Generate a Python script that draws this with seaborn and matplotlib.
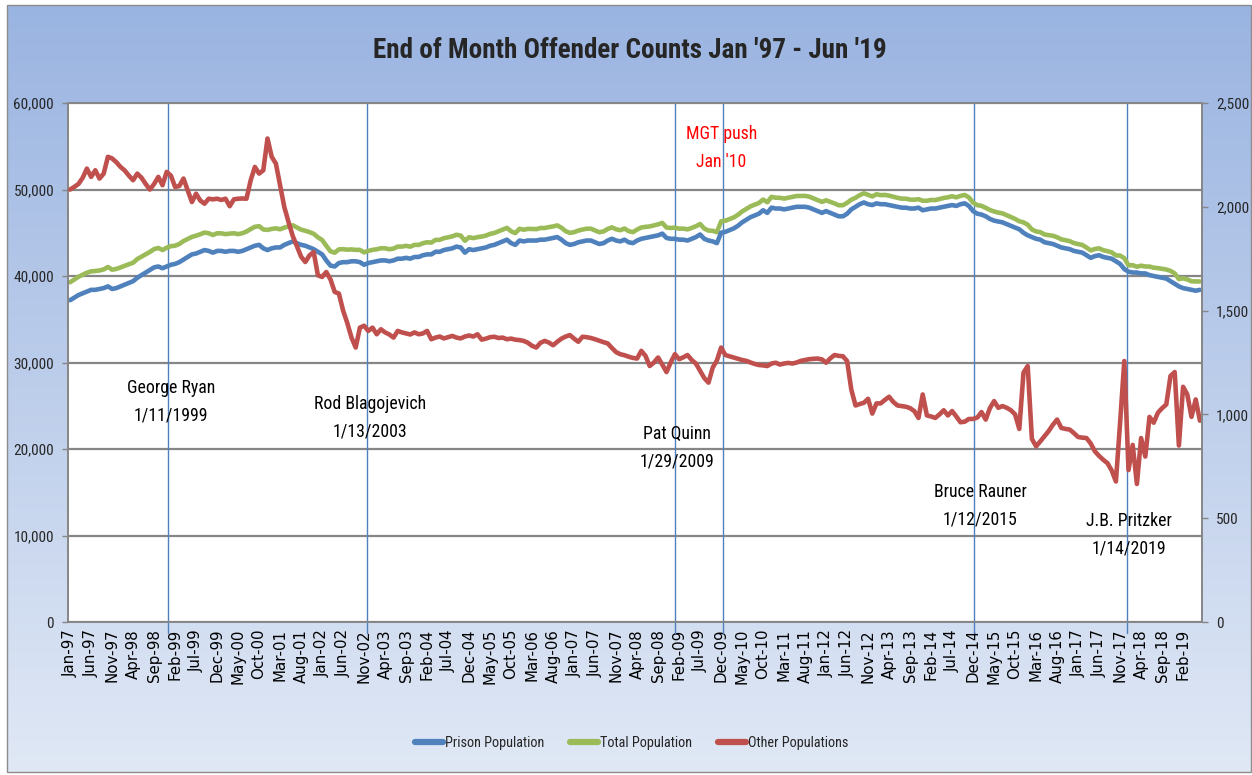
import numpy as np
import pandas as pd
import matplotlib
matplotlib.use("Agg")
import matplotlib.pyplot as plt
import seaborn as sns
from matplotlib import font_manager as fm
from matplotlib.patches import Rectangle
from matplotlib.lines import Line2D
from matplotlib.ticker import FuncFormatter, MultipleLocator

sns.set_style("white")
plt.rcParams['font.family'] = ['DejaVu Sans']


def _w(v):
    if isinstance(v, str):
        return fm.weight_dict.get(v, 400)
    return int(v)


def find_narrow(bold):
    prefs = ['Liberation Sans Narrow', 'Roboto Condensed', 'Open Sans Condensed',
             'Noto Sans', 'DejaVu Sans', 'Open Sans', 'Roboto', 'Lato', 'Inter']
    for fam in prefs:
        for f in fm.fontManager.ttflist:
            if f.name != fam or f.style != 'normal':
                continue
            narrow = ('Narrow' in fam or 'Condensed' in fam or
                      str(f.stretch) in ('condensed', 'semi-condensed', 'extra-condensed',
                                         'ultra-condensed'))
            if not narrow:
                continue
            w = _w(f.weight)
            if bold and w >= 600:
                return f.fname
            if not bold and 350 <= w <= 500:
                return f.fname
    return None


_reg = find_narrow(False)
_bold = find_narrow(True)
FP = fm.FontProperties(fname=_reg) if _reg else fm.FontProperties(family='DejaVu Sans')
FPB = fm.FontProperties(fname=_bold) if _bold else fm.FontProperties(family='DejaVu Sans', weight='bold')
HAVE_NARROW = _reg is not None

# ---------------- data (monthly, Jan 1997 - Jun 2019) ----------------
prison = [
    37200, 37500, 37800, 38000, 38200, 38400, 38400, 38500, 38600, 38800, 38500, 38600,
    38800, 39000, 39200, 39400, 39800, 40100, 40400, 40700, 41000, 41100, 40900, 41100,
    41300, 41400, 41600, 41900, 42200, 42500, 42600, 42800, 43000, 42900, 42700, 42900,
    42900, 42800, 42900, 42900, 42800, 42900, 43100, 43300, 43500, 43600, 43200, 43000,
    43200, 43300, 43300, 43600, 43800, 44000, 43800, 43600, 43500, 43300, 43100, 42800,
    42500, 41800, 41200, 41100, 41500, 41600, 41600, 41700, 41700, 41600, 41300, 41500,
    41600, 41700, 41800, 41800, 41700, 41800, 42000, 42000, 42100, 42000, 42200, 42200,
    42400, 42500, 42500, 42800, 42800, 43000, 43100, 43200, 43400, 43300, 42700, 43100,
    43000, 43100, 43200, 43300, 43500, 43600, 43800, 44000, 44200, 43800, 43600, 44100,
    44000, 44100, 44100, 44100, 44200, 44200, 44300, 44400, 44500, 44200, 43800, 43600,
    43700, 43900, 44000, 44100, 44100, 43900, 43700, 43800, 44100, 44300, 44100, 44000,
    44200, 43900, 43800, 44100, 44300, 44400, 44500, 44600, 44700, 44900, 44400, 44300,
    44300, 44200, 44200, 44100, 44300, 44500, 44800, 44300, 44100, 44000, 43800, 45000,
    45100, 45300, 45500, 45800, 46200, 46500, 46800, 47000, 47200, 47600, 47300, 47900,
    47800, 47800, 47700, 47800, 47900, 48000, 48000, 48000, 47900, 47700, 47500, 47300,
    47500, 47300, 47100, 46900, 46900, 47200, 47700, 48000, 48300, 48500, 48300, 48200,
    48400, 48300, 48300, 48200, 48100, 48000, 47900, 47900, 47800, 47800, 47900, 47600,
    47700, 47800, 47800, 47900, 48000, 48100, 48200, 48100, 48300, 48400, 48100, 47500,
    47200, 47100, 46900, 46600, 46400, 46300, 46200, 46000, 45800, 45600, 45400, 45000,
    44700, 44500, 44300, 44200, 43900, 43800, 43700, 43500, 43300, 43200, 43100, 42900,
    42800, 42700, 42400, 42100, 42300, 42400, 42200, 42100, 42000, 41700, 41400, 40800,
    40500, 40400, 40400, 40300, 40300, 40100, 40000, 39900, 39800, 39700, 39400, 39100,
    38800, 38600, 38500, 38400, 38300, 38400,
]

total = [
    39280, 39600, 39910, 40140, 40380, 40540, 40580, 40640, 40760, 41040, 40730, 40820,
    40990, 41180, 41350, 41530, 41960, 42240, 42510, 42780, 43110, 43240, 43000, 43270,
    43450, 43500, 43700, 44040, 44280, 44520, 44660, 44830, 45020, 44940, 44740, 44940,
    44930, 44840, 44900, 44940, 44840, 44940, 45140, 45430, 45690, 45760, 45380, 45330,
    45440, 45510, 45400, 45600, 45730, 45860, 45610, 45360, 45230, 45070, 44880, 44470,
    44160, 43490, 42850, 42690, 43080, 43100, 43040, 43070, 43020, 43020, 42730, 42900,
    43020, 43090, 43210, 43200, 43090, 43170, 43400, 43400, 43490, 43390, 43600, 43590,
    43790, 43900, 43860, 44170, 44180, 44370, 44470, 44580, 44770, 44670, 44080, 44480,
    44380, 44490, 44560, 44670, 44870, 44970, 45170, 45370, 45560, 45170, 44960, 45460,
    45350, 45450, 45430, 45420, 45550, 45550, 45650, 45730, 45850, 45570, 45180, 44980,
    45070, 45250, 45370, 45470, 45470, 45260, 45060, 45150, 45440, 45620, 45400, 45290,
    45490, 45180, 45070, 45370, 45610, 45680, 45730, 45850, 45970, 46140, 45600, 45550,
    45590, 45470, 45480, 45390, 45560, 45750, 46010, 45480, 45250, 45230, 45060, 46320,
    46390, 46580, 46770, 47070, 47460, 47760, 48050, 48240, 48440, 48840, 48530, 49150,
    49050, 49040, 48950, 49050, 49150, 49250, 49260, 49260, 49170, 48970, 48770, 48570,
    48750, 48570, 48390, 48180, 48180, 48460, 48820, 49040, 49350, 49560, 49380, 49200,
    49450, 49350, 49370, 49290, 49160, 49040, 48940, 48940, 48830, 48820, 48880, 48700,
    48700, 48790, 48780, 48900, 49020, 49100, 49220, 49090, 49260, 49370, 49080, 48480,
    48190, 48110, 47880, 47630, 47460, 47330, 47240, 47030, 46820, 46600, 46330, 46200,
    45930, 45380, 45150, 45070, 44800, 44720, 44650, 44480, 44240, 44130, 44030, 43810,
    43690, 43590, 43290, 42960, 43120, 43200, 42980, 42870, 42730, 42380, 42360, 42060,
    41230, 41250, 41070, 41190, 41100, 41090, 40960, 40910, 40830, 40750, 40590, 40300,
    39650, 39730, 39600, 39390, 39370, 39370,
]

other = [
    2083, 2096, 2110, 2140, 2184, 2144, 2176, 2136, 2160, 2241, 2233, 2215,
    2192, 2175, 2150, 2128, 2160, 2140, 2110, 2083, 2110, 2144, 2104, 2168,
    2150, 2096, 2100, 2136, 2080, 2023, 2063, 2030, 2015, 2039, 2036, 2039,
    2033, 2039, 2003, 2036, 2039, 2040, 2039, 2128, 2192, 2160, 2176, 2329,
    2241, 2208, 2104, 1999, 1927, 1860, 1810, 1760, 1734, 1766, 1782, 1670,
    1662, 1686, 1650, 1590, 1582, 1500, 1440, 1370, 1322, 1418, 1427, 1402,
    1418, 1386, 1410, 1395, 1385, 1370, 1402, 1395, 1390, 1385, 1395, 1386,
    1390, 1402, 1362, 1370, 1375, 1366, 1372, 1378, 1370, 1366, 1375, 1380,
    1375, 1386, 1360, 1365, 1372, 1374, 1368, 1370, 1362, 1365, 1360, 1358,
    1354, 1345, 1330, 1322, 1345, 1354, 1346, 1333, 1350, 1365, 1375, 1382,
    1365, 1350, 1374, 1372, 1368, 1362, 1355, 1348, 1342, 1320, 1300, 1290,
    1285, 1278, 1272, 1269, 1306, 1282, 1233, 1250, 1274, 1240, 1204, 1250,
    1290, 1266, 1275, 1286, 1262, 1245, 1210, 1175, 1153, 1225, 1260, 1322,
    1286, 1280, 1274, 1268, 1262, 1258, 1250, 1243, 1238, 1236, 1233, 1245,
    1249, 1240, 1245, 1248, 1245, 1250, 1258, 1262, 1266, 1268, 1269, 1265,
    1249, 1270, 1286, 1282, 1280, 1257, 1120, 1043, 1050, 1056, 1075, 1004,
    1053, 1053, 1070, 1085, 1060, 1043, 1040, 1037, 1030, 1016, 983, 1096,
    995, 990, 983, 1000, 1020, 995, 1016, 990, 962, 965, 978, 978,
    985, 1011, 975, 1030, 1064, 1032, 1040, 1032, 1020, 1000, 930, 1201,
    1233, 882, 846, 870, 895, 920, 950, 975, 935, 930, 927, 910,
    891, 888, 886, 860, 822, 800, 781, 765, 730, 677, 960, 1257,
    732, 853, 665, 886, 797, 988, 960, 1008, 1030, 1048, 1185, 1204,
    850, 1133, 1096, 988, 1072, 970,
]

tick_labels = [
    "Jan-97", "Jun-97", "Nov-97", "Apr-98", "Sep-98", "Feb-99", "Jul-99", "Dec-99",
    "May-00", "Oct-00", "Mar-01", "Aug-01", "Jan-02", "Jun-02", "Nov-02", "Apr-03",
    "Sep-03", "Feb-04", "Jul-04", "Dec-04", "May-05", "Oct-05", "Mar-06", "Aug-06",
    "Jan-07", "Jun-07", "Nov-07", "Apr-08", "Sep-08", "Feb-09", "Jul-09", "Dec-09",
    "May-10", "Oct-10", "Mar-11", "Aug-11", "Jan-12", "Jun-12", "Nov-12", "Apr-13",
    "Sep-13", "Feb-14", "Jul-14", "Dec-14", "May-15", "Oct-15", "Mar-16", "Aug-16",
    "Jan-17", "Jun-17", "Nov-17", "Apr-18", "Sep-18", "Feb-19",
]

# governors / events: (label, month index of the marker line, text x, text y on left axis, colour)
events = [
    ("George Ryan\n1/11/1999", 23.2, 24.0, 25500, "black"),
    ("Rod Blagojevich\n1/13/2003", 70.8, 71.4, 23600, "black"),
    ("Pat Quinn\n1/29/2009", 144.1, 144.6, 20100, "black"),
    ("MGT push\nJan '10", 155.4, 155.1, 54800, "#FF0000"),
    ("Bruce Rauner\n1/12/2015", 215.2, 216.7, 13400, "black"),
    ("J.B. Pritzker\n1/14/2019", 251.7, 252.2, 10100, "black"),
]

BLUE = "#4F81BD"
GREEN = "#9BBB59"
RED = "#C0504D"
GRID = "#868686"

# text sizes depend on whether a narrow face is available
if HAVE_NARROW:
    S_TITLE, S_TICK, S_ANN, S_LEG = 19.5, 11, 12.8, 10.3
else:
    S_TITLE, S_TICK, S_ANN, S_LEG = 16, 9.5, 11, 9.5

df = pd.DataFrame({
    "month": np.arange(len(prison)),
    "Prison Population": prison,
    "Total Population": total,
    "Other Populations": other,
})

W, H = 1252, 775
fig = plt.figure(figsize=(W / 100, H / 100), dpi=100)
fig.patch.set_facecolor("white")

# gradient background panel
bg = fig.add_axes([0, 0, 1, 1], zorder=-10)
bg.set_xlim(0, W)
bg.set_ylim(H, 0)
bg.axis("off")
g = np.linspace(0, 1, 256)[:, None, None]
c_top = np.array([154, 180, 225]) / 255
c_bot = np.array([224, 232, 245]) / 255
img = c_top + (c_bot - c_top) * g
bg.imshow(img, extent=[7, W, 772, 5], aspect="auto", interpolation="bilinear")
bg.add_patch(Rectangle((7, 5), W - 8, 767, fill=False, edgecolor="#8c8c8c", lw=1))

# main axes (plot area in pixels: x 68..1202, y 103..622)
L, R, T, B = 68, 1202, 103, 622
ax = fig.add_axes([L / W, 1 - B / H, (R - L) / W, (B - T) / H])
ax.set_facecolor("white")

sns.lineplot(data=df, x="month", y="Total Population", ax=ax, color=GREEN, lw=3.3, legend=False)
sns.lineplot(data=df, x="month", y="Prison Population", ax=ax, color=BLUE, lw=3.3, legend=False)

ax.set_xlim(-0.5, len(prison) - 0.5)
ax.set_ylim(0, 60000)
ax.yaxis.set_major_locator(MultipleLocator(10000))
ax.yaxis.set_major_formatter(FuncFormatter(lambda v, p: f"{int(v):,}"))
ax.grid(axis="y", color=GRID, lw=1.6, zorder=0)
ax.set_axisbelow(True)
ax.set_xlabel("")
ax.set_ylabel("")
ax.set_xticks(np.arange(0, len(prison), 5))
ax.set_xticklabels(tick_labels, rotation=90, fontsize=10.8, family=["DejaVu Sans"])
ax.tick_params(axis="x", length=0, pad=5, colors="black")
ax.tick_params(axis="y", length=4, width=1, color=GRID, pad=6)
for t in ax.get_yticklabels():
    t.set_fontproperties(FP)
    t.set_fontsize(S_TICK)
for s in ["left", "bottom", "top"]:
    ax.spines[s].set_color(GRID)
    ax.spines[s].set_linewidth(1.4)
ax.spines["right"].set_visible(False)

# event marker lines and labels
for label, xpos, tx, ty, col in events:
    ax.axvline(xpos, ymin=-0.022, ymax=1, color=BLUE, lw=1.0, zorder=1, clip_on=False)
    ax.text(tx, ty, label, ha="center", va="center", fontproperties=FP, fontsize=S_ANN,
            color=col, linespacing=1.68, zorder=5)

ax2 = ax.twinx()
sns.lineplot(data=df, x="month", y="Other Populations", ax=ax2, color=RED, lw=3.3, legend=False)
ax2.set_ylim(0, 2500)
ax2.set_xlim(-0.5, len(prison) - 0.5)
ax2.yaxis.set_major_locator(MultipleLocator(500))
ax2.yaxis.set_major_formatter(FuncFormatter(lambda v, p: f"{int(v):,}"))
ax2.set_ylabel("")
ax2.tick_params(axis="y", length=4, width=1, color=GRID, pad=6)
for t in ax2.get_yticklabels():
    t.set_fontproperties(FP)
    t.set_fontsize(S_TICK)
for s in ["left", "bottom", "top"]:
    ax2.spines[s].set_visible(False)
ax2.spines["right"].set_color(GRID)
ax2.spines["right"].set_linewidth(1.4)

fig.text(630 / W, 1 - 50 / H, "End of Month Offender Counts Jan '97 - Jun '19",
         ha="center", va="center", fontproperties=FPB, fontsize=S_TITLE)

handles = [Line2D([0], [0], color=BLUE, lw=4.5),
           Line2D([0], [0], color=GREEN, lw=4.5),
           Line2D([0], [0], color=RED, lw=4.5)]
leg_fp = FP.copy()
leg_fp.set_size(S_LEG)
fig.legend(handles, ["Prison Population", "Total Population", "Other Populations"],
           loc="center", bbox_to_anchor=(632 / W, 1 - 743 / H), ncol=3, frameon=False,
           prop=leg_fp, handlelength=1.95, handletextpad=0.15, columnspacing=1.8)

fig.savefig("out.png", dpi=100)
